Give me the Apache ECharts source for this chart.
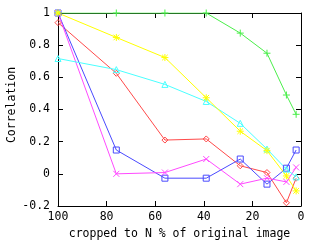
<!DOCTYPE html>
<html><head><meta charset="utf-8">
<script src="https://cdn.jsdelivr.net/npm/echarts@6/dist/echarts.min.js"></script>
<style>html,body{margin:0;padding:0;background:#fff}#c{width:320px;height:240px}</style>
</head><body><div id="c"></div>
<script>
const xValues = [100, 76, 56, 39, 25, 14, 6, 2];
const redVals = [0.94, 0.625, 0.21, 0.217, 0.05, 0.008, -0.18, -0.027];
const greenVals = [1, 1, 1, 1, 0.875, 0.75, 0.49, 0.37];
const blueVals = [1, 0.148, -0.027, -0.027, 0.092, -0.064, 0.035, 0.148];
const magentaVals = [1, 0.0, 0.008, 0.092, -0.064, -0.027, -0.05, 0.04];
const cyanVals = [0.717, 0.648, 0.556, 0.45, 0.314, 0.154, 0.029, -0.019];
const yellowVals = [1, 0.848, 0.723, 0.473, 0.265, 0.144, -0.013, -0.106];
const xTitle = 'cropped to N % of original image';
const yTitle = 'Correlation';

const FONT = 'DejaVu Sans Mono';
const FS = 11.5;
const plus = 'path://M5,0L5,10M0,5L10,5';
const cross = 'path://M0,0L10,10M0,10L10,0';
const star = 'path://M5,0L5,10M0,5L10,5M1,1L9,9M1,9L9,1';

function mk(vals, color, symbol, size, fill) {
  return {
    type: 'line',
    data: xValues.map((x, i) => [x, vals[i]]),
    symbol: symbol,
    symbolSize: size,
    showSymbol: true,
    lineStyle: { color: color, width: 1 },
    itemStyle: { color: fill ? color : 'rgba(255,255,255,0)', borderColor: color, borderWidth: 1 },
    emphasis: { disabled: true },
    z: 3
  };
}

const chart = echarts.init(document.getElementById('c'), null, { renderer: 'canvas' });
const axisLine = { show: true, onZero: false, lineStyle: { color: '#000', width: 1 } };
const tick = { show: true, inside: true, length: 5, lineStyle: { color: '#000' } };
chart.setOption({
  animation: false,
  backgroundColor: '#fff',
  grid: { left: 58, right: 19, top: 13, bottom: 34, containLabel: false, outerBoundsMode: 'none' },
  xAxis: [
    { type: 'value', inverse: true, min: 0, max: 100, interval: 20, position: 'bottom',
      axisLine: axisLine, axisTick: tick, splitLine: { show: false },
      axisLabel: { fontFamily: FONT, fontSize: FS, color: '#000', margin: 5 },
      name: xTitle, nameLocation: 'middle', nameGap: 22,
      nameTextStyle: { fontFamily: FONT, fontSize: FS, color: '#000' } },
    { type: 'value', inverse: true, min: 0, max: 100, interval: 20, position: 'top',
      axisLine: axisLine, axisTick: tick, splitLine: { show: false }, axisLabel: { show: false } }
  ],
  yAxis: [
    { type: 'value', min: -0.2, max: 1, interval: 0.2, position: 'left',
      axisLine: axisLine, axisTick: tick, splitLine: { show: false },
      axisLabel: { fontFamily: FONT, fontSize: FS, color: '#000', margin: 8 } },
    { type: 'value', min: -0.2, max: 1, interval: 0.2, position: 'right',
      axisLine: axisLine, axisTick: tick, splitLine: { show: false }, axisLabel: { show: false } }
  ],
  graphic: [{
    type: 'text', rotation: Math.PI / 2, x: 12, y: 105,
    style: { text: yTitle, font: FS + 'px "DejaVu Sans Mono"', fill: '#000', align: 'center', verticalAlign: 'middle' }
  }],
  series: [
    mk(redVals, '#ff4a4a', 'diamond', 6, false),
    mk(greenVals, '#4aee4a', plus, 7, true),
    mk(blueVals, '#4a4aff', 'rect', 6, false),
    mk(magentaVals, '#ff4aff', cross, 6, true),
    mk(cyanVals, '#4affff', 'triangle', 6, false),
    mk(yellowVals, '#ffff00', star, 7, true)
  ]
});
</script></body></html>
